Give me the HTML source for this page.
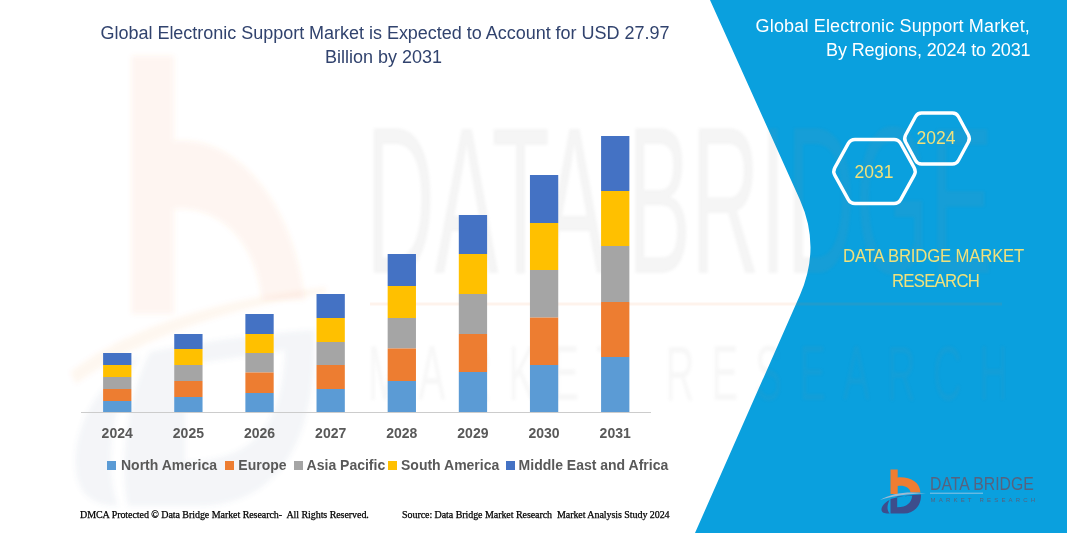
<!DOCTYPE html>
<html><head><meta charset="utf-8">
<style>
html,body{margin:0;padding:0;}
body{width:1067px;height:533px;overflow:hidden;background:#fff;position:relative;font-family:"Liberation Sans",sans-serif;}
.abs{position:absolute;white-space:nowrap;}
svg{position:absolute;left:0;top:0;}
.title{color:#31436E;font-size:18px;line-height:24px;}
.yr{position:absolute;top:425px;font-size:14px;font-weight:bold;color:#595959;width:60px;text-align:center;line-height:16px;}
.lg{position:absolute;top:457px;font-size:14px;font-weight:bold;color:#595959;line-height:16px;white-space:nowrap;}
.sq{position:absolute;top:461px;width:9px;height:9px;}
.foot{position:absolute;top:508px;font-family:"Liberation Serif",serif;font-size:10px;color:#000;-webkit-text-stroke:0.25px #000;letter-spacing:-0.06px;white-space:nowrap;line-height:14px;}
.rt{color:#fff;font-size:18px;line-height:24px;}
.yl{color:#F0E17C;}
</style></head><body>
<svg width="1067" height="533" viewBox="0 0 1067 533">
<defs>
<g id="lg">
<path d="M10.5,0 L17.7,0 L17.7,7.8 C30,6.9 40,12.4 40.4,22.9 L30.5,22.9 C30,17.9 24,15.4 17.7,16.4 L17.7,24.4 L10.5,24.4 Z" fill="#EF7D31"/>
<path d="M10.5,29.5 C20,26.5 30,25.3 41,24.8 C41.5,36 34,43.9 24,43.9 L10.5,43.9 Z M17.2,27 L32.2,26.2 C31.5,33 27,37.7 17.2,37.7 Z M9.5,30.5 C4,33.5 1.2,37.5 1.5,40.5 C1.8,43 4,44 8.5,44 L9.8,44 C6.8,41 6.8,36 9.5,30.5 Z" fill="#3D4D8C" fill-rule="evenodd"/>
<path d="M0,30.4 C12,23.4 28,21.4 46,23.9 C28,23.9 13,26.4 0,30.4 Z" fill="#9DBAD3"/>
</g>
</defs>
<filter id="bl3" x="-10%" y="-10%" width="120%" height="120%"><feGaussianBlur stdDeviation="2.5"/></filter>
<g filter="url(#bl3)">
<path opacity="0.075" d="M131.5,55.8 L174,55.8 L174,141 C232,135 292,195 305,300 L262,300 C257,245 222,205 174,209 L174,314 L131.5,314 Z" fill="#EF7D31"/>
<path opacity="0.06" d="M70,372 C130,325 225,298 326,287 L326,293 C232,307 140,338 76,384 Z" fill="#EF7D31"/>
<path opacity="0.07" d="M150,352 C210,340 270,333 314,330 C318,420 290,505 200,506 L128,506 C120,470 125,400 150,352 Z M185,365 L285,350 C282,420 260,460 185,462 Z M140,355 C95,385 72,430 76,470 C78,495 95,506 118,506 C105,470 108,410 140,355 Z" fill="#5A6E9E" fill-rule="evenodd"/>
</g>
<path d="M710,0 L800,200 Q821,247 800,295 L695,533 L1067,533 L1067,0 Z" fill="#0AA0DE"/>
</svg>
<svg width="1067" height="533" viewBox="0 0 1067 533">
<defs><filter id="bl" x="-5%" y="-5%" width="110%" height="110%"><feGaussianBlur stdDeviation="1.5"/></filter></defs>
<g opacity="0.09" fill="#8E8E8E" filter="url(#bl)" font-family="Liberation Sans">
<text x="0" y="0" font-size="100" textLength="627" lengthAdjust="spacingAndGlyphs" transform="translate(366,272.6) scale(1,2.095)">DATA BRIDGE</text>
</g>
<g opacity="0.065" fill="#8E8E8E" filter="url(#bl)" font-family="Liberation Sans">
<text x="0" y="0" font-size="40" textLength="640" lengthAdjust="spacing" transform="translate(368,399.6) scale(1,1.94)">MARKET RESEARCH</text>
</g>
<rect x="370" y="302.5" width="632" height="3" fill="#EF7D31" opacity="0.09"/>
</svg>
<div id="t1" class="abs title" style="left:100.5px;top:21px;letter-spacing:-0.02px;">Global Electronic Support Market is Expected to Account for USD 27.97</div>
<div id="t2" class="abs title" style="left:325px;top:45px;">Billion by 2031</div>
<svg width="1067" height="533" viewBox="0 0 1067 533">
<rect x="81" y="412" width="570" height="1" fill="#CCCCCC"/>
<rect x="103.10" y="353" width="28.3" height="12.00" fill="#4472C4"/><rect x="103.10" y="365" width="28.3" height="12.00" fill="#FFC000"/><rect x="103.10" y="377" width="28.3" height="12.00" fill="#A5A5A5"/><rect x="103.10" y="389" width="28.3" height="12.00" fill="#ED7D31"/><rect x="103.10" y="401" width="28.3" height="11.00" fill="#5B9BD5"/><rect x="174.24" y="334" width="28.3" height="15.00" fill="#4472C4"/><rect x="174.24" y="349" width="28.3" height="16.00" fill="#FFC000"/><rect x="174.24" y="365" width="28.3" height="16.00" fill="#A5A5A5"/><rect x="174.24" y="381" width="28.3" height="16.00" fill="#ED7D31"/><rect x="174.24" y="397" width="28.3" height="15.00" fill="#5B9BD5"/><rect x="245.38" y="314" width="28.3" height="20.00" fill="#4472C4"/><rect x="245.38" y="334" width="28.3" height="19.00" fill="#FFC000"/><rect x="245.38" y="353" width="28.3" height="19.50" fill="#A5A5A5"/><rect x="245.38" y="372.5" width="28.3" height="20.50" fill="#ED7D31"/><rect x="245.38" y="393" width="28.3" height="19.00" fill="#5B9BD5"/><rect x="316.52" y="294" width="28.3" height="24.00" fill="#4472C4"/><rect x="316.52" y="318" width="28.3" height="24.00" fill="#FFC000"/><rect x="316.52" y="342" width="28.3" height="23.00" fill="#A5A5A5"/><rect x="316.52" y="365" width="28.3" height="24.00" fill="#ED7D31"/><rect x="316.52" y="389" width="28.3" height="23.00" fill="#5B9BD5"/><rect x="387.66" y="254" width="28.3" height="32.00" fill="#4472C4"/><rect x="387.66" y="286" width="28.3" height="32.00" fill="#FFC000"/><rect x="387.66" y="318" width="28.3" height="30.50" fill="#A5A5A5"/><rect x="387.66" y="348.5" width="28.3" height="32.50" fill="#ED7D31"/><rect x="387.66" y="381" width="28.3" height="31.00" fill="#5B9BD5"/><rect x="458.80" y="215" width="28.3" height="39.00" fill="#4472C4"/><rect x="458.80" y="254" width="28.3" height="40.00" fill="#FFC000"/><rect x="458.80" y="294" width="28.3" height="40.00" fill="#A5A5A5"/><rect x="458.80" y="334" width="28.3" height="38.00" fill="#ED7D31"/><rect x="458.80" y="372" width="28.3" height="40.00" fill="#5B9BD5"/><rect x="529.94" y="175" width="28.3" height="48.00" fill="#4472C4"/><rect x="529.94" y="223" width="28.3" height="47.00" fill="#FFC000"/><rect x="529.94" y="270" width="28.3" height="47.60" fill="#A5A5A5"/><rect x="529.94" y="317.6" width="28.3" height="47.40" fill="#ED7D31"/><rect x="529.94" y="365" width="28.3" height="47.00" fill="#5B9BD5"/><rect x="601.08" y="136" width="28.3" height="55.00" fill="#4472C4"/><rect x="601.08" y="191" width="28.3" height="55.00" fill="#FFC000"/><rect x="601.08" y="246" width="28.3" height="56.00" fill="#A5A5A5"/><rect x="601.08" y="302" width="28.3" height="55.00" fill="#ED7D31"/><rect x="601.08" y="357" width="28.3" height="55.00" fill="#5B9BD5"/>
</svg>
<div class="yr" style="left:87.2px">2024</div><div class="yr" style="left:158.4px">2025</div><div class="yr" style="left:229.5px">2026</div><div class="yr" style="left:300.7px">2027</div><div class="yr" style="left:371.8px">2028</div><div class="yr" style="left:442.9px">2029</div><div class="yr" style="left:514.1px">2030</div><div class="yr" style="left:585.2px">2031</div>
<div class="sq" style="left:107px;background:#5B9BD5"></div><div class="lg" style="left:121px">North America</div><div class="sq" style="left:224.5px;background:#ED7D31"></div><div class="lg" style="left:238.3px">Europe</div><div class="sq" style="left:294px;background:#A5A5A5"></div><div class="lg" style="left:306.6px">Asia Pacific</div><div class="sq" style="left:388.4px;background:#FFC000"></div><div class="lg" style="left:401px">South America</div><div class="sq" style="left:505.7px;background:#4472C4"></div><div class="lg" style="left:518.6px">Middle East and Africa</div>
<div id="f1" class="foot" style="left:80px">DMCA Protected &#169; Data Bridge Market Research-&nbsp; All Rights Reserved.</div>
<div id="f2" class="foot" style="left:402px">Source: Data Bridge Market Research&nbsp; Market Analysis Study 2024</div>
<svg width="1067" height="533" viewBox="0 0 1067 533">
<path d="M834.89,175.43 Q832.70,171.50 834.89,167.57 L848.31,143.43 Q850.50,139.50 855.00,139.50 L894.00,139.50 Q898.50,139.50 900.69,143.43 L914.11,167.57 Q916.30,171.50 914.11,175.43 L900.69,199.57 Q898.50,203.50 894.00,203.50 L855.00,203.50 Q850.50,203.50 848.31,199.57 Z" fill="none" stroke="#fff" stroke-width="3.4"/>
<path d="M905.60,142.02 Q903.70,138.50 905.60,134.98 L915.60,116.52 Q917.50,113.00 921.50,113.00 L952.50,113.00 Q956.50,113.00 958.40,116.52 L968.40,134.98 Q970.30,138.50 968.40,142.02 L958.40,160.48 Q956.50,164.00 952.50,164.00 L921.50,164.00 Q917.50,164.00 915.60,160.48 Z" fill="none" stroke="#fff" stroke-width="3.4"/>
</svg>
<div id="h1" class="abs yl" style="left:854.5px;top:162px;font-size:17.5px;line-height:20px;">2031</div>
<div id="h2" class="abs yl" style="left:916.5px;top:128px;font-size:17.5px;line-height:20px;">2024</div>
<div id="d1" class="abs yl" style="left:842.7px;top:244px;font-size:18px;line-height:24px;letter-spacing:-0.2px;transform-origin:0 0;transform:scaleX(0.93);">DATA BRIDGE MARKET</div>
<div id="d2" class="abs yl" style="left:892.2px;top:268.5px;font-size:18px;line-height:24px;letter-spacing:-0.8px;transform-origin:0 0;transform:scaleX(0.93);">RESEARCH</div>
<svg width="1067" height="533" viewBox="0 0 1067 533">
<use href="#lg" transform="translate(880,469.6)"/>
<rect x="930" y="492.7" width="53" height="1" fill="#8FC3E3"/>
</svg>
<div id="lt" class="abs" style="left:930px;top:474px;font-size:19px;line-height:20px;color:#56627F;transform-origin:0 0;transform:scaleX(0.83);">DATA BRIDGE</div>
<div id="lt2" class="abs" style="left:930.5px;top:496px;font-size:6px;line-height:8px;color:#56627F;letter-spacing:3.2px;">MARKET RESEARCH</div>
<div id="r1" class="abs rt" style="right:37px;top:14px;letter-spacing:0.16px;">Global Electronic Support Market,</div>
<div id="r2" class="abs rt" style="right:36.5px;top:38px;letter-spacing:-0.11px;">By Regions, 2024 to 2031</div>
</body></html>
